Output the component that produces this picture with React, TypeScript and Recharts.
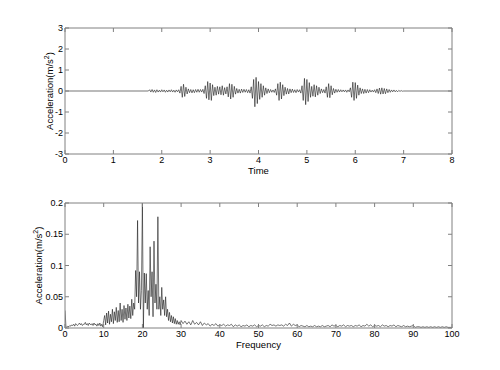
import React from 'react';
import { LineChart, Line, XAxis, YAxis } from 'recharts';

// time signal: samples every 0.025 s from 1.75 s to 7.0 s, flat zero elsewhere
const TIME_START = 1.75;
const TIME_STEP = 0.025;
const accel = [
  0.06, -0.05, 0.07, -0.06, 0.05, -0.07, 0.06, -0.05,
  0.04, -0.05, 0.06, -0.04, 0.05, -0.06, 0.04, -0.05,
  0.05, -0.04, 0.06, -0.05, 0.04, -0.06, 0.05, -0.04,
  0.06, -0.1, 0.22, -0.3, 0.32, -0.26, 0.18, -0.14,
  0.1, -0.08, 0.07, -0.09, 0.06, -0.08, 0.07, -0.06,
  0.08, -0.06, 0.07, -0.05, 0.08, -0.12, 0.25, -0.35,
  0.45, -0.42, 0.38, -0.45, 0.3, -0.22, 0.18, -0.2,
  0.22, -0.15, 0.2, -0.18, 0.25, -0.2, 0.16, -0.14,
  0.2, -0.28, 0.35, -0.38, 0.32, -0.3, 0.22, -0.15,
  0.12, -0.1, 0.08, -0.1, 0.09, -0.07, 0.08, -0.06,
  0.07, -0.08, 0.06, -0.1, 0.2, -0.35, 0.55, -0.75,
  0.65, -0.6, 0.45, -0.4, 0.35, -0.3, 0.25, -0.2,
  0.15, -0.12, 0.1, -0.08, 0.07, -0.06, 0.05, -0.07,
  0.1, -0.2, 0.35, -0.45, 0.42, -0.38, 0.3, -0.22,
  0.18, -0.15, 0.12, -0.14, 0.1, -0.08, 0.09, -0.07,
  0.06, -0.08, 0.07, -0.05, 0.06, -0.1, 0.25, -0.45,
  0.6, -0.65, 0.55, -0.5, 0.4, -0.3, 0.22, -0.25,
  0.3, -0.28, 0.25, -0.2, 0.18, -0.12, 0.1, -0.08,
  0.07, -0.1, 0.2, -0.3, 0.35, -0.32, 0.25, -0.18,
  0.12, -0.1, 0.08, -0.06, 0.07, -0.05, 0.06, -0.04,
  0.05, -0.04, 0.05, -0.06, 0.05, -0.04, 0.15, -0.3,
  0.42, -0.45, 0.4, -0.35, 0.28, -0.2, 0.15, -0.12,
  0.1, -0.12, 0.08, -0.1, 0.07, -0.08, 0.06, -0.05,
  0.04, -0.05, 0.06, -0.08, 0.1, -0.12, 0.14, -0.15,
  0.15, -0.14, 0.12, -0.13, 0.1, -0.08, 0.07, -0.06,
  0.05, -0.04, 0.05, -0.04, 0.03, -0.04, 0.03, -0.02,
  0.02, -0.01, 0,
];
const timeTicks = [0, 1, 2, 3, 4, 5, 6, 7, 8];
const accelTicks = [-3, -2, -1, 0, 1, 2, 3];

// spectrum: 0.25 Hz bins up to 30 Hz, then 0.5 Hz bins to 100 Hz
const spectrumLow = [
  0.028, 0.002, 0.001, 0.003,
  0.002, 0.004, 0.003, 0.005,
  0.004, 0.006, 0.003, 0.007,
  0.005, 0.004, 0.006, 0.008,
  0.005, 0.007, 0.004, 0.006,
  0.006, 0.009, 0.005, 0.007,
  0.004, 0.008, 0.006, 0.005,
  0.007, 0.004, 0.008, 0.005,
  0.006, 0.003, 0.007, 0.004,
  0.008, 0.003, 0.006, 0.002,
  0.012, 0.02, 0.005, 0.024,
  0.008, 0.027, 0.006, 0.022,
  0.01, 0.03, 0.007, 0.026,
  0.012, 0.033, 0.009, 0.028,
  0.01, 0.04, 0.012, 0.03,
  0.009, 0.036, 0.014, 0.032,
  0.012, 0.038, 0.016, 0.035,
  0.015, 0.046, 0.02, 0.04,
  0.03, 0.092, 0.05, 0.172,
  0.04, 0.09, 0.03, 0.06,
  0.2, 0.0, 0.088, 0.04,
  0.087, 0.03, 0.06, 0.02,
  0.13, 0.05, 0.09, 0.018,
  0.139, 0.04, 0.07, 0.03,
  0.178, 0.03, 0.05, 0.02,
  0.065, 0.03, 0.045, 0.02,
  0.05, 0.018, 0.03, 0.012,
  0.025, 0.01, 0.02, 0.008,
  0.018, 0.007, 0.015, 0.006,
  0.012, 0.006, 0.01, 0.005,
  0.012,
];
const spectrumHigh = [
  0.007, 0.011, 0.006, 0.01, 0.005, 0.012, 0.006, 0.009, 0.005, 0.01,
  0.004, 0.008, 0.005, 0.007, 0.003, 0.006, 0.004, 0.007, 0.003, 0.005,
  0.004, 0.006, 0.003, 0.005, 0.004, 0.006, 0.002, 0.005, 0.003, 0.005,
  0.002, 0.004, 0.003, 0.005, 0.002, 0.004, 0.003, 0.005, 0.002, 0.004,
  0.003, 0.005, 0.002, 0.004, 0.003, 0.006, 0.004, 0.005, 0.003, 0.005,
  0.004, 0.005, 0.003, 0.006, 0.004, 0.008, 0.003, 0.006, 0.004, 0.005,
  0.002, 0.004, 0.003, 0.002, 0.004, 0.002, 0.003, 0.002, 0.004, 0.002,
  0.003, 0.002, 0.004, 0.002, 0.003, 0.004, 0.002, 0.005, 0.003, 0.004,
  0.002, 0.004, 0.003, 0.005, 0.002, 0.004, 0.003, 0.004, 0.002, 0.004,
  0.003, 0.005, 0.002, 0.004, 0.003, 0.006, 0.003, 0.005, 0.002, 0.004,
  0.003, 0.004, 0.002, 0.005, 0.003, 0.004, 0.002, 0.004, 0.003, 0.005,
  0.002, 0.004, 0.003, 0.002, 0.004, 0.002, 0.003, 0.002, 0.003, 0.004,
  0.001, 0.002, 0.002, 0.001, 0.002, 0.001, 0.002, 0.001, 0.002, 0.001,
  0.002, 0.001, 0.002, 0.001, 0.002, 0.001, 0.002, 0.001, 0.001, 0.001,
];
const freqTicks = [0, 10, 20, 30, 40, 50, 60, 70, 80, 90, 100];
const ampTicks = [0, 0.05, 0.1, 0.15, 0.2];

const timeData = [
  { t: 0, v: 0 },
  { t: 1.725, v: 0 },
  ...accel.map((v, i) => ({ t: +(TIME_START + i * TIME_STEP).toFixed(3), v })),
  { t: 8, v: 0 },
];
const specData = [
  ...spectrumLow.map((a, i) => ({ f: i * 0.25, a })),
  ...spectrumHigh.map((a, i) => ({ f: 30.5 + i * 0.5, a })),
];

const BOX = '#808080';
const LINE = '#1a1a1a';
const tickStyle = { fill: '#000', fontSize: 9 };
const noLabel = () => '';

function YTitle({ cx, cy }: { cx: number; cy: number }) {
  return (
    <text x={cx} y={cy} transform={`rotate(-90 ${cx} ${cy})`} textAnchor="middle" fontSize={9.5} fill="#000">
      Acceleration(m/s<tspan dy={-4} fontSize={7}>2</tspan>
      <tspan dy={4}>)</tspan>
    </text>
  );
}

function XTitle({ cx, cy, text }: { cx: number; cy: number; text: string }) {
  return (
    <text x={cx} y={cy} textAnchor="middle" fontSize={9.5} fill="#000">
      {text}
    </text>
  );
}

export default function App() {
  return (
    <div style={{ position: 'absolute', left: 0, top: 0, width: 500, height: 370, background: '#fff', fontFamily: '"Liberation Sans", Arial, sans-serif' }}>
      <div style={{ position: 'absolute', left: 0, top: 0 }}>
        <LineChart width={500} height={185} data={timeData} margin={{ top: 27, right: 47, left: 5, bottom: 0 }}>
          <XAxis xAxisId="b" dataKey="t" type="number" domain={[0, 8]} ticks={timeTicks} interval={0}
            stroke={BOX} tick={tickStyle} tickSize={-4} tickMargin={7} height={31} allowDataOverflow
            label={<XTitle cx={258.5} cy={174} text="Time" />} />
          <XAxis xAxisId="t" orientation="top" dataKey="t" type="number" domain={[0, 8]} ticks={timeTicks} interval={0}
            stroke={BOX} tickSize={-4} tickFormatter={noLabel} height={1} allowDataOverflow />
          <YAxis yAxisId="l" type="number" domain={[-3, 3]} ticks={accelTicks} interval={0}
            stroke={BOX} tick={tickStyle} tickSize={-4} tickMargin={6} width={60} allowDataOverflow
            label={<YTitle cx={53} cy={91} />} />
          <YAxis yAxisId="r" orientation="right" type="number" domain={[-3, 3]} ticks={accelTicks} interval={0}
            stroke={BOX} tickSize={-4} tickFormatter={noLabel} width={1} allowDataOverflow />
          <Line xAxisId="b" yAxisId="l" type="linear" dataKey="v" stroke={LINE} strokeWidth={0.6} dot={false} isAnimationActive={false} />
          <Line xAxisId="t" yAxisId="r" type="linear" dataKey="v" stroke="none" dot={false} isAnimationActive={false} />
        </LineChart>
      </div>
      <div style={{ position: 'absolute', left: 0, top: 185 }}>
        <LineChart width={500} height={185} data={specData} margin={{ top: 17, right: 47, left: 5, bottom: 0 }}>
          <XAxis xAxisId="b" dataKey="f" type="number" domain={[0, 100]} ticks={freqTicks} interval={0}
            stroke={BOX} tick={tickStyle} tickSize={-4} tickMargin={7} height={42} allowDataOverflow
            label={<XTitle cx={258.5} cy={163} text="Frequency" />} />
          <XAxis xAxisId="t" orientation="top" dataKey="f" type="number" domain={[0, 100]} ticks={freqTicks} interval={0}
            stroke={BOX} tickSize={-4} tickFormatter={noLabel} height={1} allowDataOverflow />
          <YAxis yAxisId="l" type="number" domain={[0, 0.2]} ticks={ampTicks} interval={0}
            stroke={BOX} tick={tickStyle} tickSize={-4} tickMargin={6} width={60} allowDataOverflow
            label={<YTitle cx={42} cy={80.5} />} />
          <YAxis yAxisId="r" orientation="right" type="number" domain={[0, 0.2]} ticks={ampTicks} interval={0}
            stroke={BOX} tickSize={-4} tickFormatter={noLabel} width={1} allowDataOverflow />
          <Line xAxisId="b" yAxisId="l" type="linear" dataKey="a" stroke={LINE} strokeWidth={0.6} dot={false} isAnimationActive={false} />
          <Line xAxisId="t" yAxisId="r" type="linear" dataKey="a" stroke="none" dot={false} isAnimationActive={false} />
        </LineChart>
      </div>
    </div>
  );
}
